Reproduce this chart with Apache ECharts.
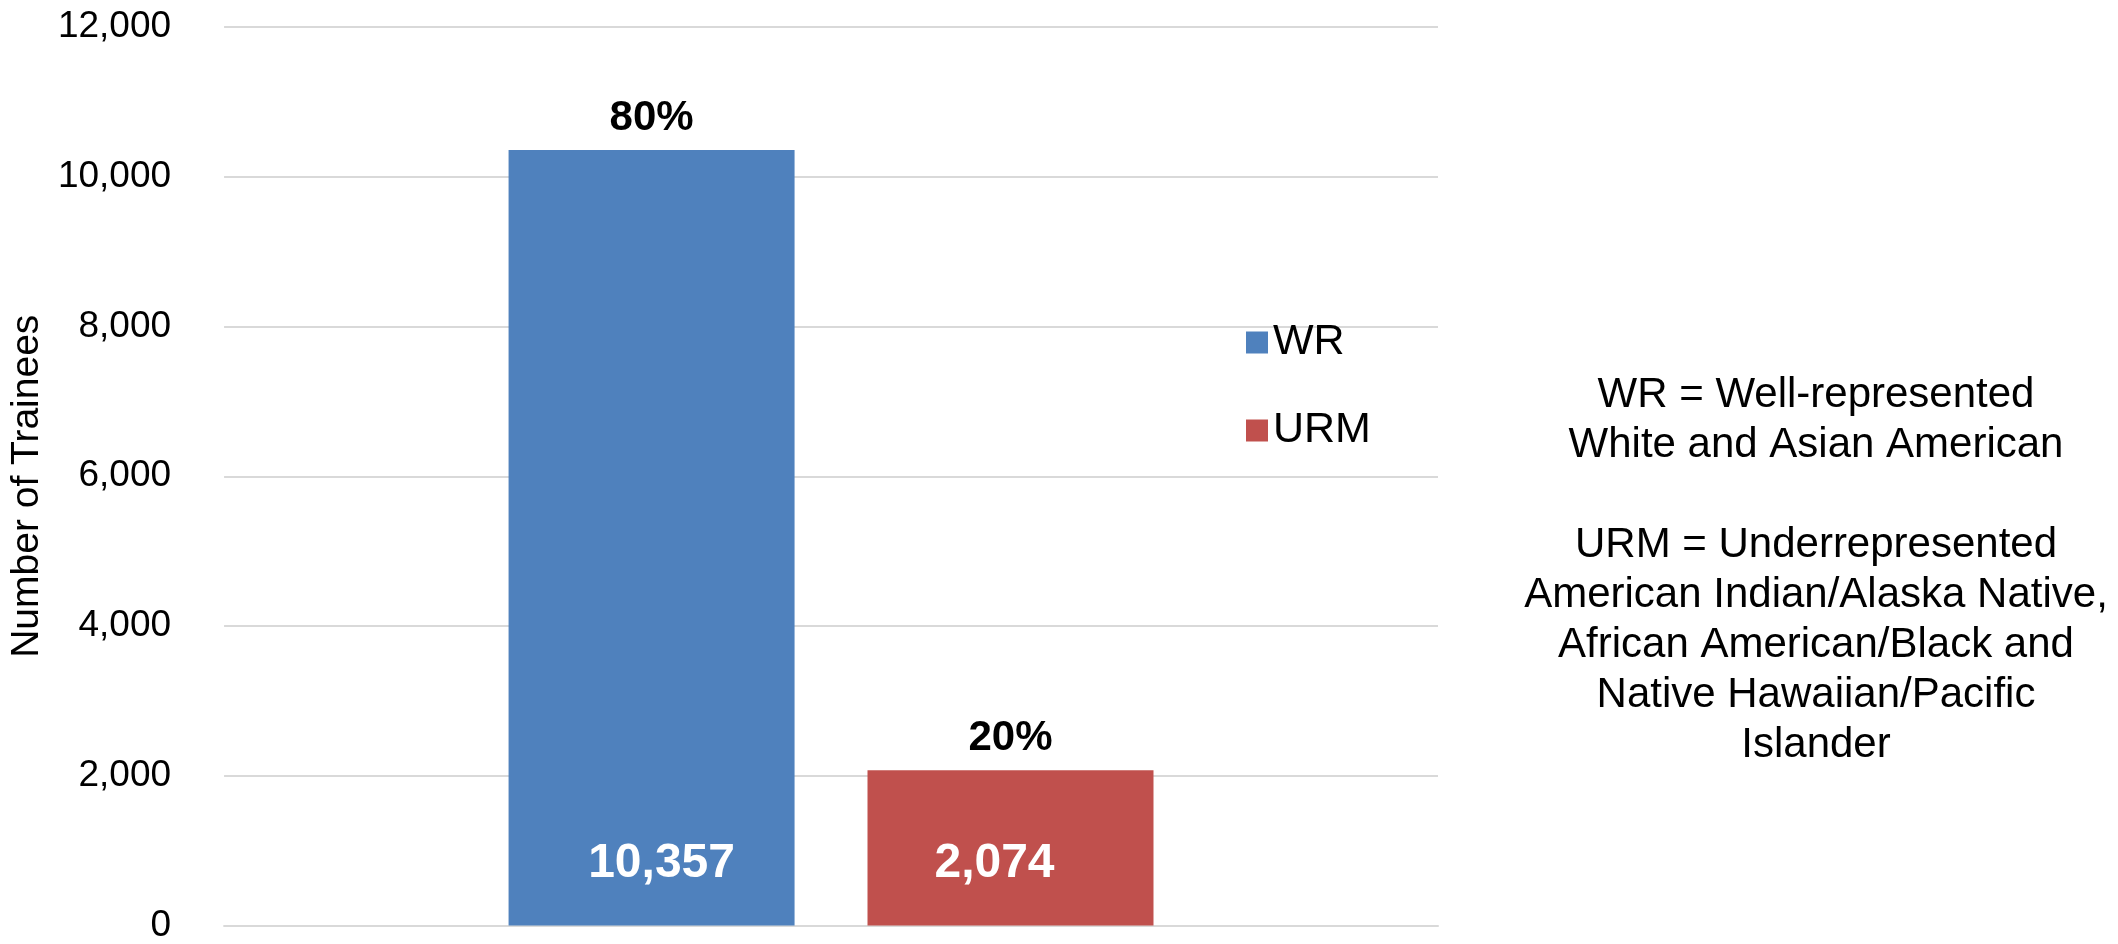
<!DOCTYPE html>
<html>
<head>
<meta charset="utf-8">
<script src="https://cdn.jsdelivr.net/npm/echarts@6/dist/echarts.min.js"></script>
<style>
html, body { margin: 0; padding: 0; background: #fff; }
#main { width: 2118px; height: 944px; }
</style>
</head>
<body>
<div id="main"></div>
<script>
// 数据
var groups = ['WR', 'URM'];
var trainees = [10357, 2074];
var shares = ['80%', '20%'];
var yMin = 0, yMax = 12000, yStep = 2000;
var notes = [
    'WR = Well-represented',
    'White and Asian American',
    '',
    'URM = Underrepresented',
    'American Indian/Alaska Native,',
    'African American/Black and',
    'Native Hawaiian/Pacific',
    'Islander'
];

// 样式
var colors = ['#4F81BD', '#C0504D'];
var font = 'Liberation Sans, Arial, sans-serif';
var valueShift = [[10, 0], [-16, 0]];

var chart = echarts.init(document.getElementById('main'));

function fmt(v) {
    return Number(v).toLocaleString('en-US');
}

var series = [];
// 主柱子 + 底部数值
groups.forEach(function (name, i) {
    series.push({
        name: name,
        type: 'bar',
        xAxisIndex: 0,
        barWidth: 286,
        barGap: '25.5%',
        data: [trainees[i]],
        itemStyle: { color: colors[i] },
        label: {
            show: true,
            position: 'insideBottom',
            distance: 38,
            offset: valueShift[i],
            formatter: function (p) { return fmt(p.value); },
            color: '#fff',
            fontSize: 48,
            fontWeight: 'bold',
            fontFamily: font
        }
    });
});
// 透明柱子, 只用来放顶部百分比
groups.forEach(function (name, i) {
    series.push({
        name: name + ' pct',
        type: 'bar',
        xAxisIndex: 1,
        barWidth: 286,
        barGap: '25.5%',
        silent: true,
        data: [trainees[i]],
        itemStyle: { color: 'rgba(0,0,0,0)' },
        label: {
            show: true,
            position: 'top',
            distance: 11,
            formatter: shares[i],
            color: '#000',
            fontSize: 42,
            fontWeight: 'bold',
            fontFamily: font
        }
    });
});

var option = {
    animation: false,
    backgroundColor: '#fff',
    grid: { left: 212, right: 680, top: 27, bottom: 17 },
    legend: {
        data: groups,
        orient: 'vertical',
        left: 1241,
        top: 316,
        icon: 'rect',
        itemWidth: 22,
        itemHeight: 22,
        itemGap: 45,
        textStyle: { color: '#000', fontSize: 43, fontFamily: font }
    },
    xAxis: [
        {
            type: 'category',
            data: [''],
            axisLine: { lineStyle: { color: '#D9D9D9', width: 2 } },
            axisTick: { show: false },
            axisLabel: { show: false }
        },
        {
            type: 'category',
            data: [''],
            show: false
        }
    ],
    yAxis: {
        type: 'value',
        min: yMin,
        max: yMax,
        interval: yStep,
        name: 'Number of Trainees',
        nameLocation: 'middle',
        nameGap: 175,
        nameTextStyle: { color: '#000', fontSize: 39, fontFamily: font, padding: [0, 20, 0, 0] },
        axisLine: { show: false },
        axisTick: { show: false },
        axisLabel: {
            margin: 53,
            color: '#000',
            fontSize: 37,
            fontFamily: font,
            formatter: fmt
        },
        splitLine: { lineStyle: { color: '#D9D9D9', width: 2 } }
    },
    graphic: [{
        type: 'text',
        x: 1816,
        y: 370,
        style: {
            text: notes.join('\n'),
            align: 'center',
            verticalAlign: 'top',
            fill: '#000',
            fontSize: 42,
            lineHeight: 50,
            fontFamily: font
        }
    }],
    series: series
};

chart.setOption(option);
</script>
</body>
</html>
